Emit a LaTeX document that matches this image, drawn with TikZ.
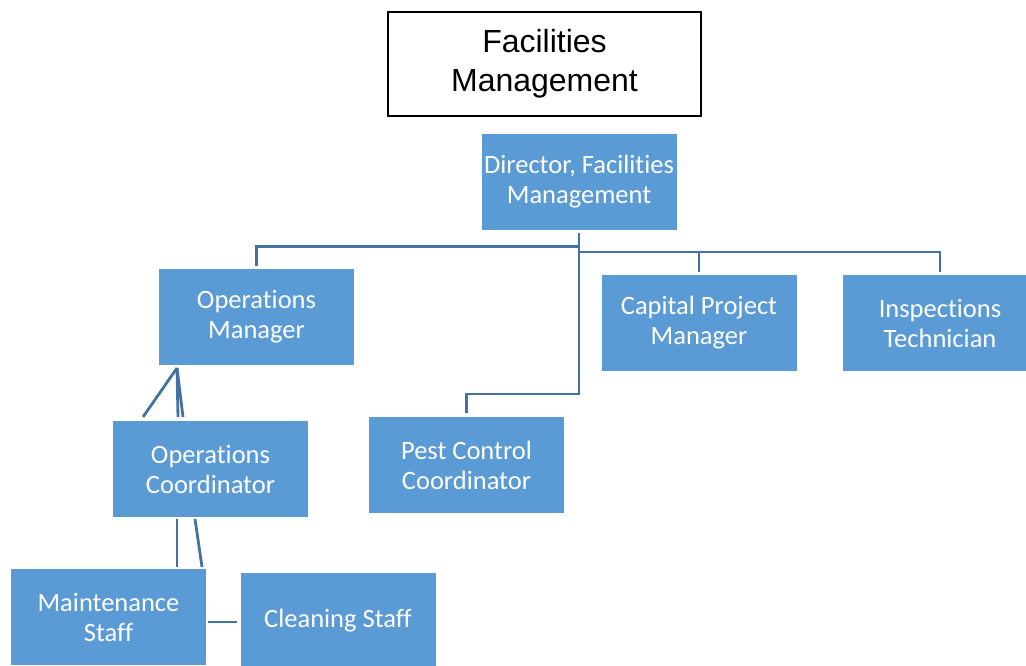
\documentclass[tikz,border=0pt]{standalone}
\usepackage{fontspec}
\setmainfont{Carlito}[Ligatures=NoCommon]
\newfontfamily\titlefont{Liberation Sans}
\usepackage{tikz}
\definecolor{boxblue}{RGB}{91,155,213}
\definecolor{linkblue}{RGB}{68,114,160}

\tikzset{
  unit/.style={fill=boxblue, text=white, minimum width=195pt, minimum height=96pt,
    align=center, inner sep=0pt, font=\fontsize{26.5}{30}\selectfont},
  link/.style={linkblue, line width=2.8pt}
}

\begin{document}
\begin{tikzpicture}[x=1pt,y=-1pt]
\clip (0,0) rectangle (1026,665);
\fill[white] (0,0) rectangle (1026,665);
%
\node[draw, line width=2pt, minimum width=313pt, minimum height=104pt, align=center,
  inner sep=0pt, font=\titlefont\fontsize{32}{39}\selectfont] (title) at (544.5,64)
  {Facilities\\Management};
%
\node[unit] (dir) at (579,182) {Director, Facilities\\Management};
\node[unit] (opsmgr) at (256.5,317) {Operations\\Manager};
\node[unit] (capital) at (699,323) {Capital Project\\Manager};
\node[unit] (inspect) at (940,323) {Inspections\\Technician};
\node[unit] (pest) at (466.5,465) {Pest Control\\Coordinator};
\node[unit] (opscoord) at (210.5,469) {Operations\\Coordinator};
\node[unit] (maint) at (108.5,617) {Maintenance\\Staff};
\node[unit] (clean) at (338,621) {Cleaning Staff};
%
\coordinate (trunk) at (579,394);
\coordinate (lbus) at (579,246.5);
\coordinate (rbus) at (579,252);
\draw[link] ([yshift=-3pt]dir.south) -- (trunk) -| ([yshift=4pt]pest.north);
\draw[link] (lbus) -| ([yshift=3pt]opsmgr.north);
\draw[link] (rbus) -| ([yshift=3pt]inspect.north);
\draw[link] (rbus -| capital.north) -- ([yshift=3pt]capital.north);
%
\coordinate (apex) at (177,368);
\coordinate (c1) at (143,417);
\coordinate (c2) at (178,417);
\coordinate (c3) at (183,417);
\draw[link] (apex) -- (c1);
\draw[link] (apex) -- (c2);
\draw[link] (apex) -- (c3);
%
\coordinate (m1) at (177,519);
\coordinate (m2) at (177,567);
\coordinate (m3) at (195,519);
\coordinate (m4) at (202,567);
\draw[link] (m1) -- (m2);
\draw[link] (m3) -- (m4);
%
\draw[link] ([xshift=2pt]maint.east |- 0,622) -- ([xshift=-3pt]clean.west |- 0,622);
\end{tikzpicture}
\end{document}
